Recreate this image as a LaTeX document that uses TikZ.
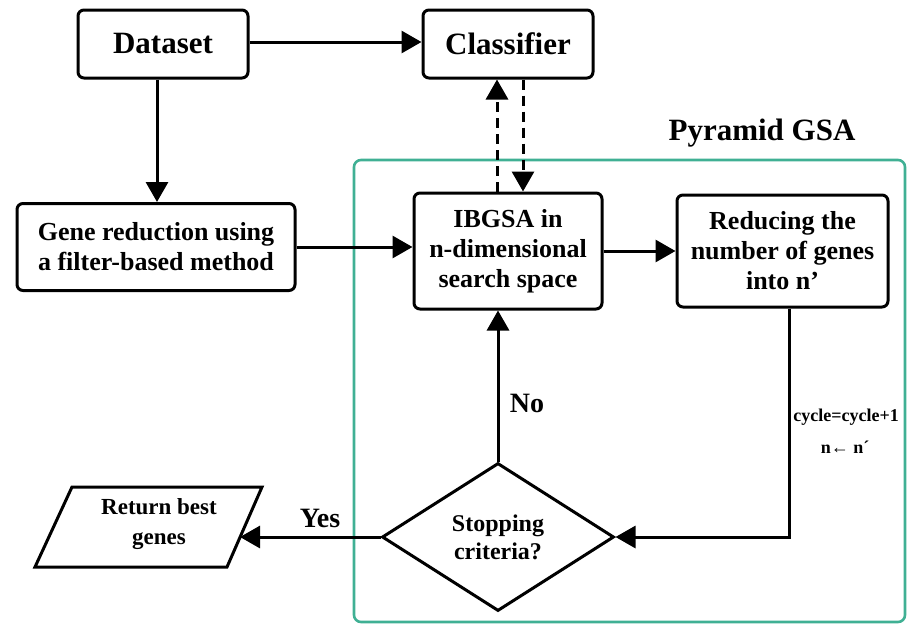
\documentclass[tikz,border=0pt]{standalone}
\usepackage{fontspec}
\setmainfont{Liberation Serif}
\usetikzlibrary{arrows.meta,shapes.geometric,calc}
\definecolor{gsagreen}{RGB}{64,176,148}
\begin{document}
\begin{tikzpicture}[x=1pt,y=-1pt,
  box/.style={draw, line width=3pt, rounded corners=6pt, align=center, inner sep=0pt,
    font=\bfseries\fontsize{26}{30}\selectfont},
  bigbox/.style={box, font=\bfseries\fontsize{31}{36}\selectfont},
  arr/.style={line width=3pt, -{Triangle[length=20pt,width=22pt]}},
  dsh/.style={arr, dash pattern=on 10pt off 6pt},
  lbl/.style={font=\bfseries\fontsize{28}{32}\selectfont, inner sep=0pt},
  small/.style={font=\bfseries\fontsize{18}{20}\selectfont, inner sep=0pt}]
\useasboundingbox (0,0) rectangle (907,624);

% Pyramid GSA container
\draw[gsagreen, line width=2.6pt, rounded corners=7pt] (354,160) rectangle (905,622);
\node[font=\bfseries\fontsize{31}{36}\selectfont, inner sep=0pt] (gsatitle) at (762,133) {Pyramid GSA};

% nodes
\node[bigbox, minimum width=170pt, minimum height=68pt] (dataset) at (163,44) {Dataset};
\node[bigbox, minimum width=170pt, minimum height=68pt] (classifier) at (508,44) {Classifier};
\node[box, minimum width=278pt, minimum height=87pt] (gene) at (156,247) {Gene reduction using\\a filter-based method};
\node[box, minimum width=188pt, minimum height=116pt] (ibgsa) at (508,251) {IBGSA in\\n-dimensional\\search space};
\node[box, minimum width=211pt, minimum height=112pt] (reduce) at (782.5,251) {Reducing the\\number of genes\\into n’};
\node[draw, diamond, line width=3pt, aspect=1.57, inner sep=0pt, minimum width=232pt, minimum height=148pt,
  align=center, font=\bfseries\fontsize{24}{28}\selectfont] (stop) at (498,537) {Stopping\\criteria?};

% return best genes (parallelogram)
\draw[line width=3pt, line join=miter] (72,487) -- (262,487) -- (227,567) -- (35,567) -- cycle;
\node[align=center, inner sep=0pt, font=\bfseries\fontsize{23}{30}\selectfont] (ret) at (159,524) {Return best\\genes};
\coordinate (retR) at (240,537);

% connectors
\draw[arr] (dataset.east |- 0,42) -- (classifier.west |- 0,42);
\draw[arr] ([xshift=-6pt]dataset.south) -- ([xshift=-6pt]dataset.south |- gene.north);
\draw[arr] (gene.east) -- (gene.east -| ibgsa.west);
\draw[arr] (ibgsa.east) -- (ibgsa.east -| reduce.west);
\draw[dsh] ([xshift=-11pt]ibgsa.north) -- ([xshift=-11pt]ibgsa.north |- classifier.south);
\draw[dsh] ([xshift=15pt]classifier.south) -- ([xshift=15pt]classifier.south |- ibgsa.north);
\draw[arr] ([xshift=6.5pt]reduce.south) |- (stop.east);
\draw[arr] (stop.north) -- (stop.north |- ibgsa.south);
\draw[arr] (stop.west) -- (retR);

% labels
\node[lbl] (yes) at (320,518) {Yes};
\node[lbl] (no) at (527,403) {No};
\node[small] (cyc) at (846,417) {cycle=cycle+1};
\node[small] (nn) at (845,447) {n← n´};
\end{tikzpicture}
\end{document}
